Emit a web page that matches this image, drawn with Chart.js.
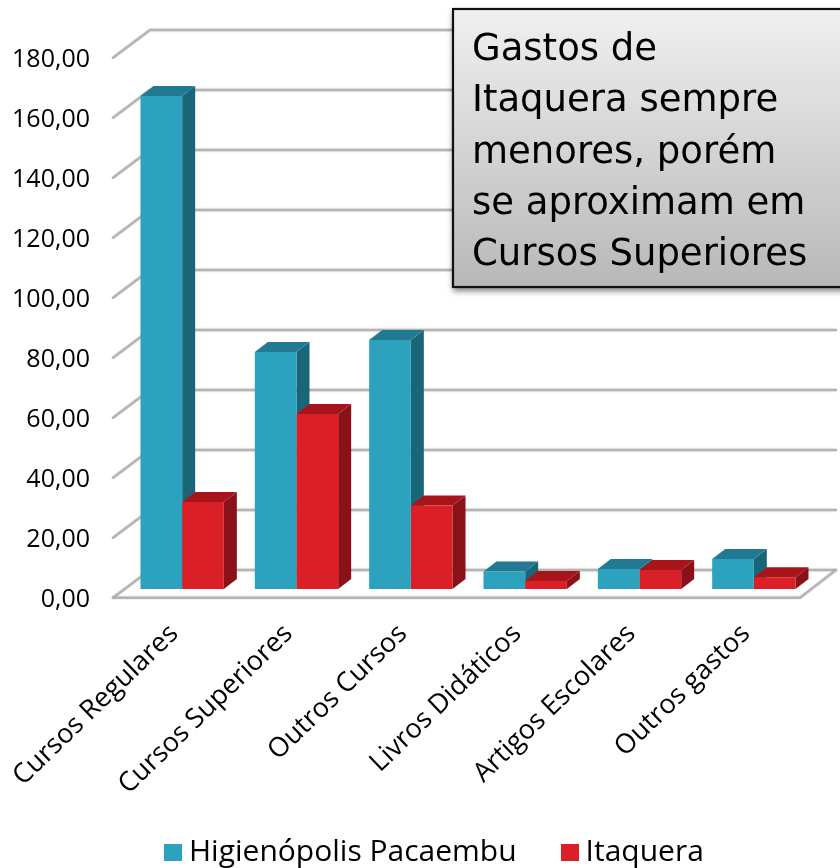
<!DOCTYPE html>
<html><head><meta charset="utf-8">
<style>html,body{margin:0;padding:0;background:#fff}#w{width:840px;height:868px}</style>
<script src="https://cdn.jsdelivr.net/npm/chart.js@4"></script></head>
<body><div id="w"><canvas id="c" width="840" height="868"></canvas></div>
<script>
const categories = ["Cursos Regulares","Cursos Superiores","Outros Cursos","Livros Didáticos","Artigos Escolares","Outros gastos"];
const higienopolis = [164.3,79,83,5.8,6.7,10];
const itaquera = [29,58.3,27.8,2.7,6.3,3.9];
const seriesNames = ["Higienópolis Pacaembu","Itaquera"];
const calloutLines = ["Gastos de","Itaquera sempre","menores, porém","se aproximam em","Cursos Superiores"];
const FONT = "'Open Sans'";
const DX = 13, DY = 10;
const faces = [{top:"#217a92",side:"#1a6679"},{top:"#a8141b",side:"#8a1117"}];

function swatch(color){const k=document.createElement('canvas');k.width=18;k.height=17;const g=k.getContext('2d');g.fillStyle=color;g.fillRect(0,0,18,17);return k;}
const wall = {
  id:'wall',
  afterLayout(chart){ chart.legend.left = 120; chart.legend.top = 785; },
  beforeDatasetsDraw(chart){
    const {ctx,scales:{y}} = chart;
    ctx.save();
    ctx.strokeStyle='#b4b4b4'; ctx.lineWidth=2.4; ctx.lineCap='round'; ctx.lineJoin='round';
    ctx.shadowColor='rgba(0,0,0,.18)'; ctx.shadowBlur=2;
    y.ticks.forEach(t=>{
      const p=y.getPixelForValue(t.value);
      ctx.beginPath();
      ctx.moveTo(113,p+8.7); ctx.lineTo(150,p-19); ctx.lineTo(836,p-19);
      ctx.stroke();
    });
    const p0=y.getPixelForValue(0);
    ctx.beginPath(); ctx.moveTo(113,p0+8.7); ctx.lineTo(800,p0+8.7); ctx.lineTo(836,p0-19); ctx.stroke();
    ctx.restore();
    [0,1].forEach(i=>{
      const f=faces[i];
      chart.getDatasetMeta(i).data.forEach(b=>{
        const l=b.x-b.width/2, r=b.x+b.width/2;
        ctx.fillStyle=f.side;
        ctx.beginPath(); ctx.moveTo(r,b.y); ctx.lineTo(r+DX,b.y-DY); ctx.lineTo(r+DX,b.base-DY); ctx.lineTo(r,b.base); ctx.closePath(); ctx.fill();
        ctx.fillStyle=f.top;
        ctx.beginPath(); ctx.moveTo(l,b.y); ctx.lineTo(l+DX,b.y-DY); ctx.lineTo(r+DX,b.y-DY); ctx.lineTo(r,b.y); ctx.closePath(); ctx.fill();
      });
    });
  },
  afterDraw(chart){
    const {ctx}=chart;
    ctx.save();
    const x=453,yy=9,w=400,h=278;
    const g=ctx.createLinearGradient(0,yy,0,yy+h); g.addColorStop(0,'#f0f0f0'); g.addColorStop(1,'#b8b8b8');
    ctx.shadowColor='rgba(0,0,0,.5)'; ctx.shadowBlur=6; ctx.shadowOffsetY=4;
    ctx.fillStyle=g; ctx.fillRect(x,yy,w,h);
    ctx.shadowColor='transparent'; ctx.shadowBlur=0; ctx.shadowOffsetY=0;
    ctx.strokeStyle='#111'; ctx.lineWidth=2.2; ctx.strokeRect(x,yy,w,h);
    ctx.fillStyle='#000'; ctx.font="37px 'DejaVu Sans'"; ctx.textBaseline='alphabetic'; ctx.textAlign='left';
    calloutLines.forEach((s,i)=>ctx.fillText(s,472,60+i*51.3));
    ctx.restore();
  }
};
new Chart(document.getElementById('c'),{
  type:'bar',
  data:{labels:categories,datasets:[
    {label:seriesNames[0],data:higienopolis,backgroundColor:"#2da2bf"},
    {label:seriesNames[1],data:itaquera,backgroundColor:"#db1f27"}
  ]},
  options:{
    responsive:false,animation:false,
    layout:{padding:{top:49,right:29,left:0,bottom:-43}},
    datasets:{bar:{barPercentage:1,categoryPercentage:0.729}},
    plugins:{
      title:{display:false},tooltip:{enabled:false},
      legend:{position:'bottom',align:'start',labels:{
        usePointStyle:true,pointStyleWidth:2,boxHeight:17,padding:52,color:'#000',
        font:{family:FONT,size:30},
        generateLabels(chart){return chart.data.datasets.map((d,i)=>({text:d.label,fontColor:'#000',datasetIndex:i,hidden:false,lineWidth:0,strokeStyle:'transparent',fillStyle:d.backgroundColor,pointStyle:swatch(d.backgroundColor)}));}
      }}
    },
    scales:{
      x:{grid:{display:false,drawTicks:false},border:{display:false},
        afterFit(s){s.height=230;s.paddingLeft=0;s.paddingRight=0;},
        ticks:{autoSkip:false,minRotation:44,maxRotation:44,padding:29,labelOffset:-8,color:'#000',font:{family:FONT,size:27}}},
      y:{min:0,max:180,grid:{display:false,drawTicks:false},border:{display:false},
        afterFit(s){s.width=125;s.paddingTop=0;s.paddingBottom=0;},
        ticks:{stepSize:20,padding:35,labelOffset:10.7,color:'#000',font:{family:FONT,size:25},
          callback:v=>v.toFixed(2).replace('.',',')}}
    }
  },
  plugins:[wall]
});
</script></body></html>
